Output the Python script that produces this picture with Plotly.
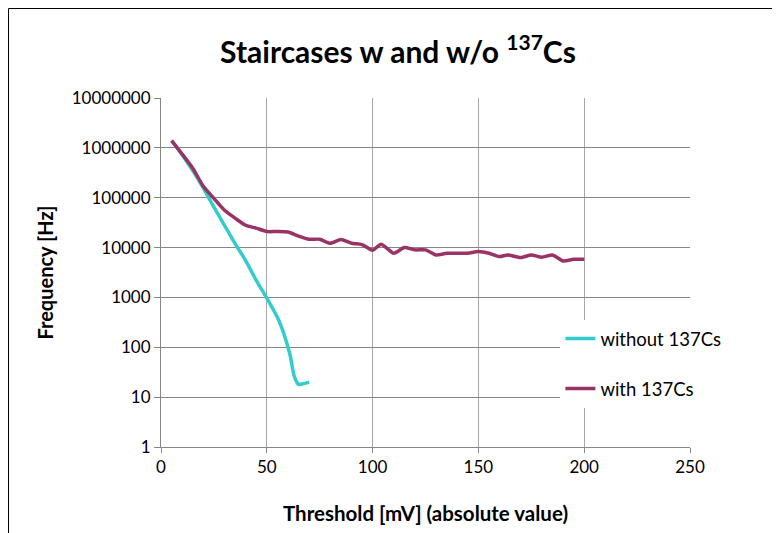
import plotly.graph_objects as go

# Data
x_without = [5, 10, 15, 20, 25, 30, 35, 40, 45, 50, 55, 57, 59, 61, 63, 65, 67, 70]
y_without = [1.4e6, 7.2e5, 3.5e5, 1.55e5, 6.5e4, 2.8e4, 1.2e4, 5.5e3, 2.2e3, 970,
             400, 250, 140, 70, 26, 18, 18.5, 20]

x_with = [5, 10, 15, 20, 25, 30, 35, 40, 45, 50, 55, 60, 65, 70, 75, 80, 85, 90, 95,
          100, 104, 110, 115, 120, 125, 130, 135, 140, 145, 150, 155, 160, 164, 170,
          175, 180, 185, 190, 195, 200]
y_with = [1.4e6, 7.5e5, 3.9e5, 1.7e5, 9.7e4, 5.6e4, 3.9e4, 2.8e4, 2.45e4, 2.1e4,
          2.1e4, 2.05e4, 1.7e4, 1.47e4, 1.47e4, 1.22e4, 1.45e4, 1.22e4, 1.15e4,
          8.8e3, 1.17e4, 7.7e3, 1.0e4, 9.0e3, 9.0e3, 7.1e3, 7.7e3, 7.7e3, 7.7e3,
          8.3e3, 7.7e3, 6.6e3, 7.1e3, 6.3e3, 7.1e3, 6.4e3, 7.1e3, 5.4e3, 5.8e3, 5.8e3]

x_ticks = [0, 50, 100, 150, 200, 250]
y_ticks = [1, 10, 100, 1000, 10000, 100000, 1000000, 10000000]
y_tick_labels = ["1", "10", "100", "1000", "10000", "100000", "1000000", "10000000"]

FONT = "Lato, Carlito, Calibri, sans-serif"

L, T, PW, PH = 153, 90, 529, 349
W, H = 780, 533

fig = go.Figure()
fig.add_trace(go.Scatter(x=x_without, y=y_without, mode="lines", name="without 137Cs",
                         line=dict(color="#33CCCC", width=3.5, shape="spline", smoothing=0.6),
                         legendgroup="a"))
fig.add_trace(go.Scatter(x=x_with, y=y_with, mode="lines", name="with 137Cs",
                         line=dict(color="#993366", width=3.5, shape="spline", smoothing=0.6),
                         legendgroup="b"))

fig.update_layout(
    width=W, height=H,
    margin=dict(l=L, r=W - L - PW, t=T, b=H - T - PH, autoexpand=False),
    paper_bgcolor="white", plot_bgcolor="white",
    font=dict(family=FONT, color="black", size=17),
    title=dict(text="<b>Staircases w and w/o <sup>137</sup>Cs</b>",
               x=0.5, xanchor="center", xref="container",
               y=1 - 44 / H, yanchor="middle", yref="container",
               font=dict(size=30, family=FONT)),
    legend=dict(x=0.755, y=0.364, xanchor="left", yanchor="top",
                bgcolor="white", borderwidth=0, tracegroupgap=23,
                font=dict(size=18.5, family=FONT)),
    xaxis=dict(range=[0, 250], tickvals=x_ticks, showgrid=True, gridcolor="#A6A6A6",
               gridwidth=1, showline=True, linecolor="#868686", ticks="outside",
               ticklen=5, tickcolor="#868686", zeroline=False,
               tickfont=dict(size=17),
               title=dict(text="<b>Threshold [mV] (absolute value)</b>",
                          font=dict(size=20.5, family=FONT), standoff=30)),
    yaxis=dict(type="log", range=[0, 7], tickvals=y_ticks, ticktext=y_tick_labels,
               showgrid=True, gridcolor="#868686", gridwidth=1, showline=True,
               linecolor="#868686", ticks="outside", ticklen=6, tickcolor="#868686",
               zeroline=False, tickfont=dict(size=17),
               title=dict(text="<b>Frequency [Hz]</b>", font=dict(size=20, family=FONT),
                          standoff=12)),
    shapes=[dict(type="rect", xref="paper", yref="paper",
                 x0=(0.5 - L) / PW, x1=(767 - L) / PW,
                 y0=(T + PH - 545) / PH, y1=(T + PH - 0.5) / PH,
                 line=dict(color="black", width=1), fillcolor="rgba(0,0,0,0)",
                 layer="above")],
)

fig.write_html("out.html")
